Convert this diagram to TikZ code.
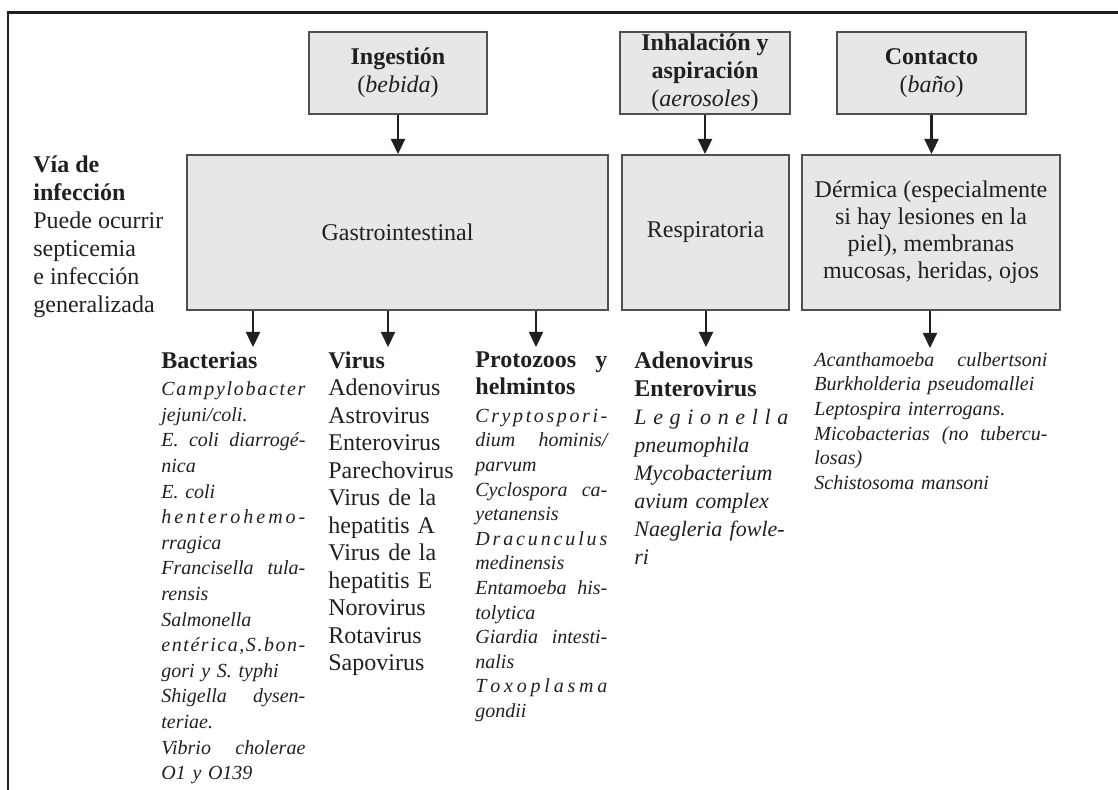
\documentclass[tikz,border=0pt]{standalone}
\usepackage{fontspec}
\setmainfont{Liberation Serif}
\usetikzlibrary{arrows.meta}
\definecolor{boxfill}{RGB}{230,231,232}
\definecolor{boxline}{RGB}{80,80,80}
\definecolor{inkcolor}{RGB}{35,31,32}

% justified line and letter-spaced word
\newcommand{\jl}[1]{\makebox[\linewidth][s]{\spaceskip=.25em plus 1fil\xspaceskip=\spaceskip\relax #1}}
\newcommand{\head}[1]{{\fontsize{12}{14}\selectfont\bfseries\upshape #1}}
\ExplSyntaxOn
\NewDocumentCommand \spreadword { m }
  { \leavevmode \hbox_to_wd:nn { \linewidth } { \tl_map_inline:nn { #1 } { ##1 \hfil } \hfilneg } }
\ExplSyntaxOff

\begin{document}
\begin{tikzpicture}[x=0.5pt, y=-0.5pt, color=inkcolor,
    route/.style={rectangle, draw=boxline, line width=1pt, fill=boxfill, inner sep=0pt, align=center, font=\fontsize{12}{14}\selectfont},
    arrow/.style={-{Triangle[length=7.5pt, width=7pt]}, line width=1.1pt},
    list/.style={anchor=north west, inner xsep=0pt, inner ysep=2pt, align=left}
]
    \useasboundingbox (0,0) rectangle (1118,790);

    % Frame
    \draw[line width=1.3pt] (8,790) -- (8,12.5) -- (1118,12.5);

    % Sources
    \node[route, minimum width=89pt, minimum height=41pt] (ing) at (398,73) {\textbf{Ingestión}\\(\textit{bebida})};
    \node[route, minimum width=85pt, minimum height=41pt] (inh) at (705,73) {\textbf{Inhalación y}\\\textbf{aspiración}\\(\textit{aerosoles})};
    \node[route, minimum width=94.5pt, minimum height=41pt] (con) at (931.5,73) {\textbf{Contacto}\\(\textit{baño})};

    % Routes of infection
    \node[route, minimum width=210.5pt, minimum height=77.5pt] (gas) at (397.5,232.5) {Gastrointestinal};
    \node[route, minimum width=83.5pt, minimum height=77.5pt] (res) at (705.5,232.5) {Respiratoria};
    \node[route, minimum width=129pt, minimum height=77.5pt, font=\fontsize{12}{13.5}\selectfont] (der) at (931,232.5) {Dérmica (especialmente\\si hay lesiones en la\\piel), membranas\\mucosas, heridas, ojos};

    \node[anchor=north west, inner sep=0pt, align=left, font=\fontsize{12}{14}\selectfont] (via) at (33,155) {\textbf{Vía de}\\\textbf{infección}\\Puede ocurrir\\septicemia\\e infección\\generalizada};

    % Pathogens
    \node[list, text width=72pt, font=\fontsize{10}{12.8}\selectfont\itshape] (bac) at (161,347) {\head{Bacterias}\\[1pt]
        \spreadword{Campylobacter}\\
        jejuni/coli.\\
        \jl{E. coli diarrogé-}\\
        nica\\
        E. coli\\
        \spreadword{henterohemo-}\\
        rragica\\
        \jl{Francisella tula-}\\
        rensis\\
        Salmonella\\
        \spreadword{entérica,S.bon-}\\
        gori y S. typhi\\
        \jl{Shigella dysen-}\\
        teriae.\\
        \jl{Vibrio cholerae}\\
        O1 y O139};
    \node[list, text width=60pt, font=\fontsize{12}{13.75}\selectfont] (vir) at (328,347) {\textbf{Virus}\\Adenovirus\\Astrovirus\\Enterovirus\\Parechovirus\\Virus de la\\hepatitis A\\Virus de la\\hepatitis E\\Norovirus\\Rotavirus\\Sapovirus};
    \node[list, text width=66pt, font=\fontsize{10}{12.3}\selectfont\itshape] (pro) at (475,347) {\head{\jl{Protozoos y}}\\[1.5pt]
        \head{helmintos}\\[1.5pt]
        \spreadword{Cryptospori-}\\
        \jl{dium hominis/}\\
        parvum\\
        \jl{Cyclospora ca-}\\
        yetanensis\\
        \spreadword{Dracunculus}\\
        medinensis\\
        \jl{Entamoeba his-}\\
        tolytica\\
        \jl{Giardia intesti-}\\
        nalis\\
        \spreadword{Toxoplasma}\\
        gondii};
    \node[list, text width=77pt, font=\fontsize{11}{14}\selectfont\itshape] (ade) at (634,347) {\head{Adenovirus}\\\head{Enterovirus}\\\spreadword{Legionella}\\pneumophila\\Mycobacterium\\avium complex\\Naegleria fowle-\\ri};
    \node[list, text width=116.5pt, font=\fontsize{10}{12.3}\selectfont\itshape] (aca) at (814,348) {\jl{Acanthamoeba culbertsoni}\\Burkholderia pseudomallei\\Leptospira interrogans.\\\jl{Micobacterias (no tubercu-}\\losas)\\Schistosoma mansoni};

    % Arrows
    \draw[arrow] (ing.south) -- (ing.south |- gas.north);
    \draw[arrow] (inh.south) -- (inh.south |- res.north);
    \draw[arrow] (con.south) -- (con.south |- der.north);
    \draw[arrow] (gas.south -| 253,0) -- (bac.north -| 253,0);
    \draw[arrow] (gas.south -| 388,0) -- (vir.north -| 388,0);
    \draw[arrow] (gas.south -| 536,0) -- (pro.north -| 536,0);
    \draw[arrow] (res.south -| 706,0) -- (ade.north -| 706,0);
    \draw[arrow] (der.south -| 930,0) -- (aca.north -| 930,0);
\end{tikzpicture}
\end{document}
